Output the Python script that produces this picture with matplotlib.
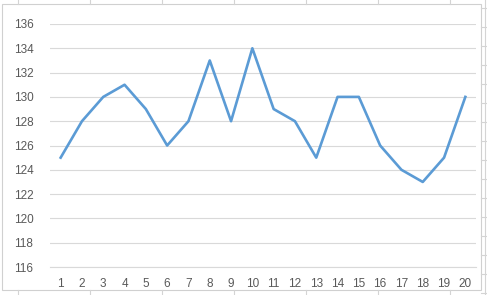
import matplotlib
matplotlib.use("Agg")
import matplotlib.pyplot as plt
from matplotlib.patches import Rectangle
from matplotlib.lines import Line2D

# data
x_labels = [str(i) for i in range(1, 21)]
values = [125, 128, 130, 131, 129, 126, 128, 133, 128, 134,
          129, 128, 125, 130, 130, 126, 124, 123, 125, 130]
y_ticks = list(range(116, 137, 2))

W, H = 487, 295
fig = plt.figure(figsize=(W / 100, H / 100), dpi=100)
fig.patch.set_facecolor("white")

# spreadsheet cell lines peeking out around the chart
for px in [18, 90, 162, 234, 306, 378, 450]:
    fig.add_artist(Line2D([px / W, px / W], [1 - 4 / H, 1], color="#d4d4d4", lw=0.8))
    fig.add_artist(Line2D([px / W, px / W], [0, 1 - 290 / H], color="#d4d4d4", lw=0.8))
for py in range(8, 295, 19):
    fig.add_artist(Line2D([481 / W, 1], [1 - py / H, 1 - py / H], color="#d4d4d4", lw=0.8))
fig.add_artist(Line2D([485 / W, 485 / W], [0, 1], color="#d4d4d4", lw=0.8))

# chart border
fig.add_artist(Rectangle((2 / W, 1 - 290 / H), 479 / W, 286 / H, fill=True,
                         facecolor="white", edgecolor="#d0d0d0", lw=0.8,
                         transform=fig.transFigure, zorder=0))

ax = fig.add_axes([50 / W, 1 - 267 / H, 426 / W, 243 / H])
ax.set_facecolor("none")
xs = list(range(1, len(values) + 1))
ax.plot(xs, values, color="#5b9bd5", lw=1.9, solid_joinstyle="round", zorder=3)

ax.set_xlim(0.5, 20.5)
ax.set_ylim(116, 136)
ax.set_yticks(y_ticks)
ax.set_xticks(xs)
ax.set_xticklabels(x_labels)
ax.grid(axis="y", color="#d9d9d9", lw=0.8)
ax.set_axisbelow(True)
for s in ["top", "right", "left"]:
    ax.spines[s].set_visible(False)
ax.spines["bottom"].set_color("#d9d9d9")
ax.spines["bottom"].set_linewidth(0.8)
ax.tick_params(axis="both", length=0, labelsize=8.5, labelcolor="#595959")
ax.tick_params(axis="y", pad=12)
ax.tick_params(axis="x", pad=8)
for lab in ax.get_xticklabels() + ax.get_yticklabels():
    lab.set_family("Liberation Sans")

fig.savefig("out.png", dpi=100)
